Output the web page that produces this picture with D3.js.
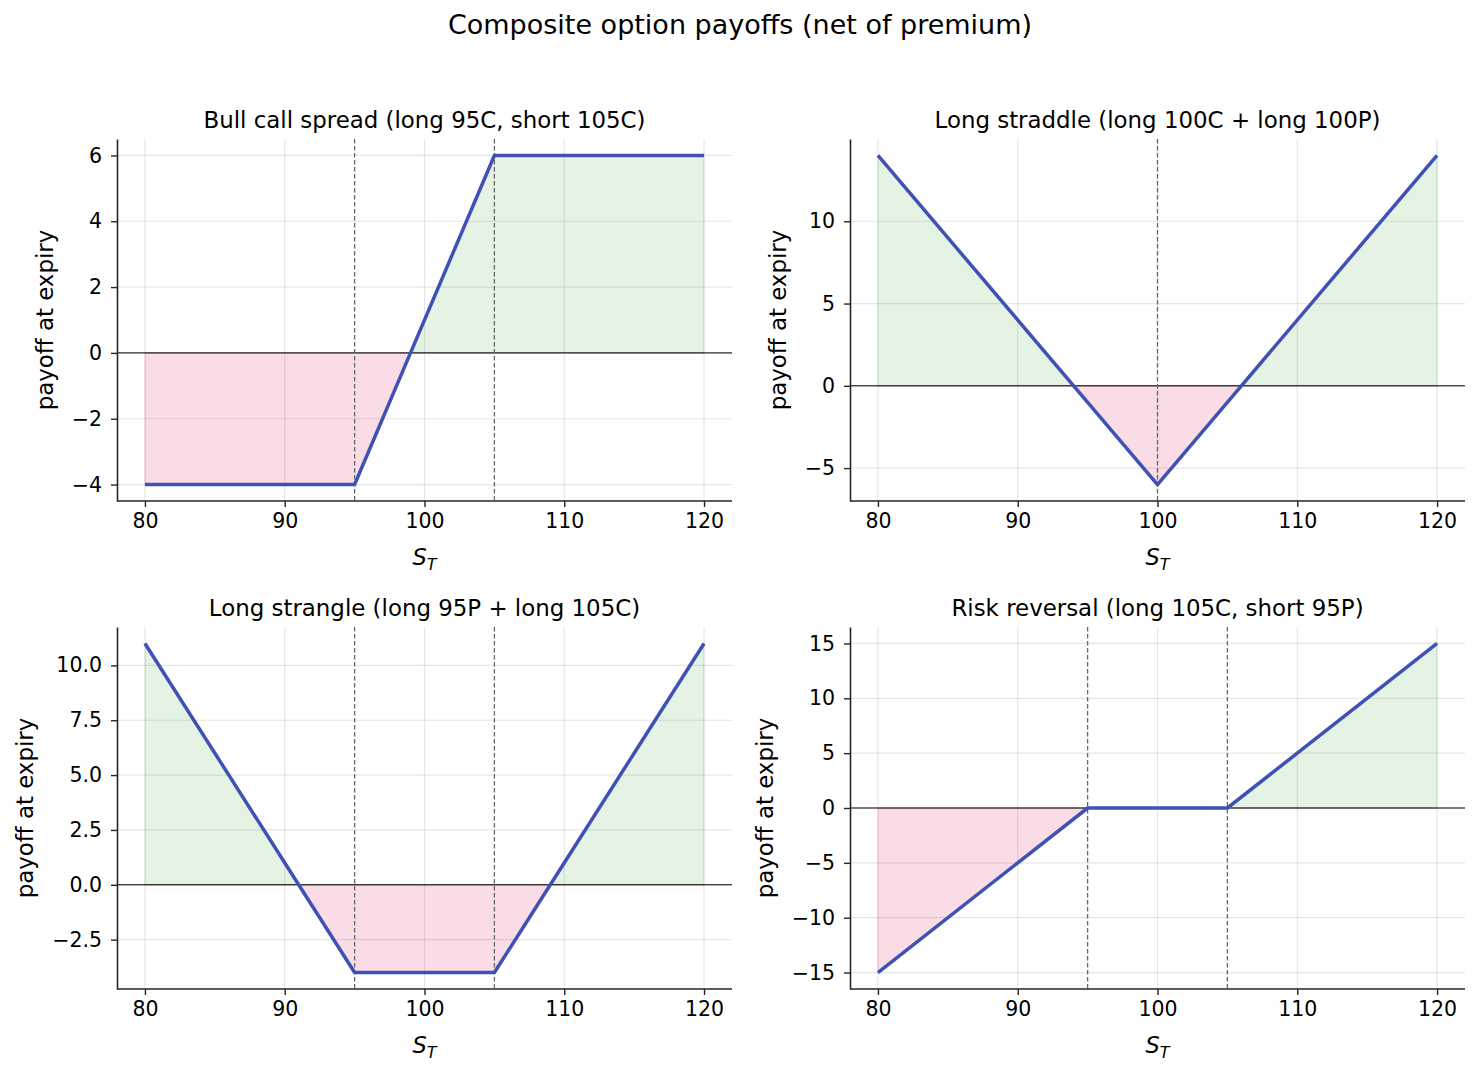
<!DOCTYPE html>
<html>
<head>
<meta charset="utf-8">
<script src="https://cdn.jsdelivr.net/npm/d3@7"></script>
<style>
  body { margin: 0; background: #fff; }
  svg { font-family: "DejaVu Sans", sans-serif; }
</style>
</head>
<body>
<div class="visHolder"></div>
<script>
const width = 1480;
const height = 1076;

// payoff breakpoints per strategy (spot at expiry -> net payoff)
const titles = [
  'Bull call spread (long 95C, short 105C)',
  'Long straddle (long 100C + long 100P)',
  'Long strangle (long 95P + long 105C)',
  'Risk reversal (long 105C, short 95P)'
];
const spots = [
  [80, 95, 105, 120],
  [80, 100, 120],
  [80, 95, 105, 120],
  [80, 95, 105, 120]
];
const payoffs = [
  [-4, -4, 6, 6],
  [14, -6, 14],
  [11, -4, -4, 11],
  [-15, 0, 0, 15]
];
const strikes = [[95, 105], [100], [95, 105], [95, 105]];
const yTicks = [
  [-4, -2, 0, 2, 4, 6],
  [-5, 0, 5, 10],
  [-2.5, 0, 2.5, 5, 7.5, 10],
  [-15, -10, -5, 0, 5, 10, 15]
];
const yFormats = ['d', 'd', '.1f', 'd'];
const xTicks = [80, 90, 100, 110, 120];

const lefts = [117, 850];
const tops = [139, 627];
const panelW = 615;
const panelH = 362;

const svg = d3.select('.visHolder')
  .append('svg')
  .attr('width', width)
  .attr('height', height);

svg.append('text')
  .attr('x', 740)
  .attr('y', 34)
  .attr('text-anchor', 'middle')
  .style('font-size', '27px')
  .text('Composite option payoffs (net of premium)');

// insert the zero crossings so the fills split cleanly
function withCrossings(xs, ys) {
  const pts = [];
  for (let i = 0; i < xs.length; i++) {
    if (i > 0) {
      const y0 = ys[i - 1], y1 = ys[i];
      if ((y0 < 0 && y1 > 0) || (y0 > 0 && y1 < 0)) {
        const t = y0 / (y0 - y1);
        pts.push([xs[i - 1] + t * (xs[i] - xs[i - 1]), 0]);
      }
    }
    pts.push([xs[i], ys[i]]);
  }
  return pts;
}

titles.forEach((title, k) => {
  const left = lefts[k % 2];
  const top = tops[Math.floor(k / 2)];
  const g = svg.append('g').attr('transform', `translate(${left}, ${top})`);

  const ys = payoffs[k];
  const lo = d3.min(ys), hi = d3.max(ys);
  const pad = (hi - lo) * 0.05;

  const x = d3.scaleLinear().domain([78, 122]).range([0, panelW]);
  const y = d3.scaleLinear().domain([lo - pad, hi + pad]).range([panelH, 0]);

  // grid
  g.append('g')
    .selectAll('line')
    .data(xTicks)
    .enter()
    .append('line')
    .attr('x1', d => x(d)).attr('x2', d => x(d))
    .attr('y1', 0).attr('y2', panelH)
    .style('stroke', '#000').style('stroke-opacity', 0.1).style('stroke-width', 1.2);
  g.append('g')
    .selectAll('line')
    .data(yTicks[k])
    .enter()
    .append('line')
    .attr('x1', 0).attr('x2', panelW)
    .attr('y1', d => y(d)).attr('y2', d => y(d))
    .style('stroke', '#000').style('stroke-opacity', 0.1).style('stroke-width', 1.2);

  const pts = withCrossings(spots[k], ys);

  const posArea = d3.area()
    .x(d => x(d[0]))
    .y0(y(0))
    .y1(d => y(Math.max(d[1], 0)));
  const negArea = d3.area()
    .x(d => x(d[0]))
    .y0(y(0))
    .y1(d => y(Math.min(d[1], 0)));

  g.append('path')
    .attr('d', posArea(pts))
    .style('fill', 'rgba(44,160,44,0.13)')
    .style('stroke', 'rgba(44,160,44,0.13)')
    .style('stroke-width', 1);
  g.append('path')
    .attr('d', negArea(pts))
    .style('fill', 'rgba(222,40,100,0.16)')
    .style('stroke', 'rgba(222,40,100,0.16)')
    .style('stroke-width', 1);

  // zero line
  g.append('line')
    .attr('x1', 0).attr('x2', panelW)
    .attr('y1', y(0)).attr('y2', y(0))
    .style('stroke', '#000').style('stroke-width', 1);

  // strikes
  g.append('g')
    .selectAll('line')
    .data(strikes[k])
    .enter()
    .append('line')
    .attr('x1', d => x(d)).attr('x2', d => x(d))
    .attr('y1', 0).attr('y2', panelH)
    .style('stroke', '#666').style('stroke-width', 1.3)
    .style('stroke-dasharray', '4.5,2.5');

  g.append('path')
    .attr('d', d3.line().x(d => x(d[0])).y(d => y(d[1]))(pts))
    .style('fill', 'none')
    .style('stroke', '#3f51b5')
    .style('stroke-width', 3.5)
    .style('stroke-linejoin', 'round');

  // axes
  const xAxis = g.append('g')
    .attr('transform', `translate(0, ${panelH})`)
    .call(d3.axisBottom(x).tickValues(xTicks).tickSize(6).tickPadding(6).tickSizeOuter(0));
  const yAxis = g.append('g')
    .call(d3.axisLeft(y).tickValues(yTicks[k]).tickFormat(d3.format(yFormats[k]))
      .tickSize(6).tickPadding(9).tickSizeOuter(0));
  [xAxis, yAxis].forEach(a => {
    a.select('.domain').style('stroke', '#262626').style('stroke-width', 1.6);
    a.selectAll('.tick line').style('stroke', '#262626').style('stroke-width', 1.4);
    a.selectAll('text').style('font-size', '20.5px').style('fill', '#000')
      .style('font-family', '"DejaVu Sans", sans-serif')
      .text(function () { return this.textContent.replace('-', '\u2212'); });
  });
  xAxis.select('.domain').attr('d', `M0,0H${panelW}`);

  g.append('text')
    .attr('x', panelW / 2)
    .attr('y', -11)
    .attr('text-anchor', 'middle')
    .style('font-size', '22.9px')
    .text(title);

  const xl = g.append('text')
    .attr('x', panelW / 2)
    .attr('y', panelH + 64)
    .attr('text-anchor', 'middle')
    .style('font-size', '22.5px')
    .style('font-style', 'italic');
  xl.append('tspan').text('S');
  xl.append('tspan').attr('dy', 5).style('font-size', '16px').text('T');

  const tickLeft = d3.min(yAxis.selectAll('.tick text').nodes(), n => n.getBBox().x);
  g.append('text')
    .attr('transform', `translate(${tickLeft - 19}, ${panelH / 2}) rotate(-90)`)
    .attr('text-anchor', 'middle')
    .style('font-size', '22.9px')
    .text('payoff at expiry');
});
</script>
</body>
</html>
